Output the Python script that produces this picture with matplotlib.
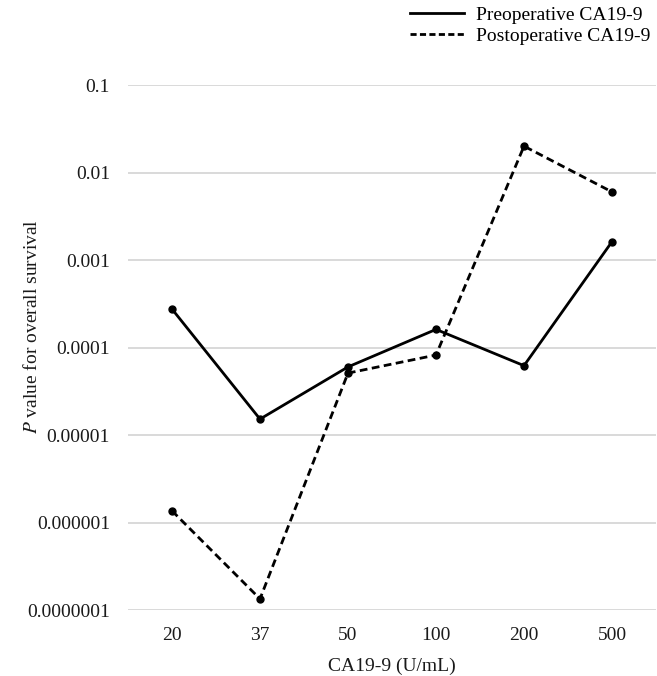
import numpy as np
import matplotlib.pyplot as plt
from matplotlib.lines import Line2D

plt.rcParams['font.family'] = ['Liberation Serif', 'DejaVu Serif']

cats = ['20', '37', '50', '100', '200', '500']
preop = [2.75e-4, 1.52e-5, 6.0e-5, 1.61e-4, 6.2e-5, 1.62e-3]
postop = [1.36e-6, 1.34e-7, 5.1e-5, 8.2e-5, 2.0e-2, 6.0e-3]
yticks = [1e-7, 1e-6, 1e-5, 1e-4, 1e-3, 1e-2, 1e-1]
ylabels = ['0.0000001', '0.000001', '0.00001', '0.0001', '0.001', '0.01', '0.1']

fig = plt.figure(figsize=(6.57, 6.76), dpi=100)
ax = fig.add_axes([128/657, 1-610/676, 528/657, 525/676])

x = np.arange(len(cats))
ax.plot(x, preop, color='black', lw=2.0, marker='o', ms=5)
ax.plot(x, postop, color='black', lw=2.0, marker='o', ms=5, dashes=(2.8, 1.6))

ax.set_yscale('log')
ax.set_ylim(1e-7, 1e-1)
ax.set_xlim(-0.5, len(cats)-0.5)
ax.set_yticks(yticks)
ax.set_yticklabels(ylabels)
ax.minorticks_off()
ax.set_xticks(x)
ax.set_xticklabels(cats)
ax.tick_params(length=0, labelsize=14, colors='#1a1a1a', pad=12)
ax.tick_params(axis='y', pad=13)
ax.yaxis.grid(True, color='#d0d0d0', lw=1.1)
ax.set_axisbelow(True)
for s in ax.spines.values():
    s.set_visible(False)

ax.set_xlabel('CA19-9 (U/mL)', fontsize=14, color='#1a1a1a', labelpad=10)
fig.text(32/657, 1-327/676, '$P$ value for overall survival', rotation=90,
         ha='center', va='center', fontsize=14, color='#1a1a1a',
         math_fontfamily='stix')

handles = [Line2D([], [], color='black', lw=2.0),
           Line2D([], [], color='black', lw=2.0, dashes=(2.2, 1.2))]
fig.legend(handles, ['Preoperative CA19-9', 'Postoperative CA19-9'],
           loc='upper right', bbox_to_anchor=(650/657, 1-6/676), frameon=False,
           fontsize=14, handlelength=2.8, handletextpad=0.6, labelspacing=0.2,
           borderpad=0, borderaxespad=0)

fig.savefig('out.png', dpi=100)
